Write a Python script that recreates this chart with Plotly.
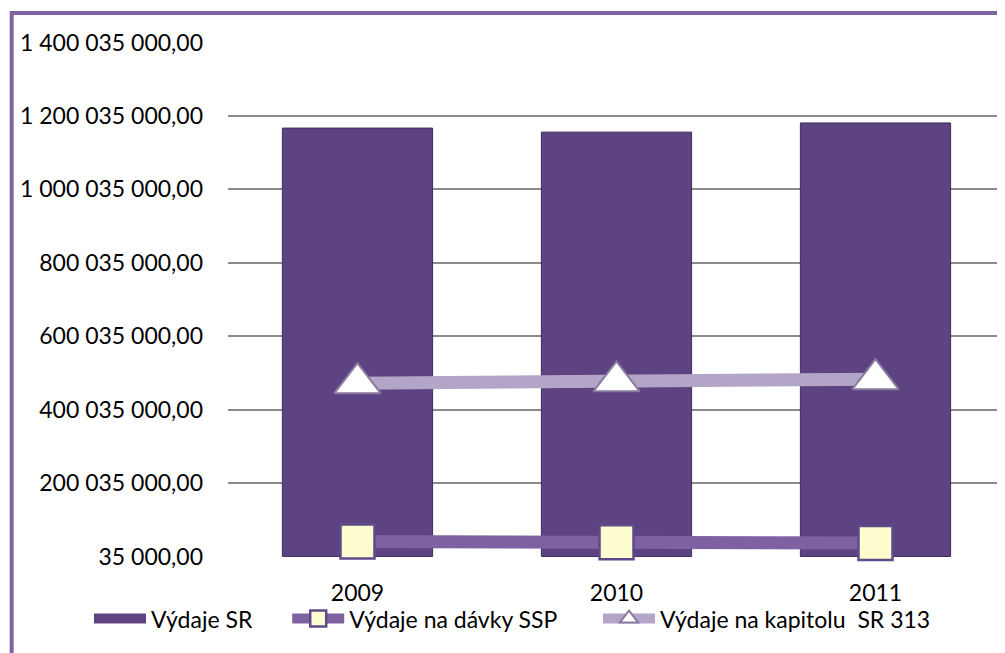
import plotly.graph_objects as go

years = ["2009", "2010", "2011"]
vydaje_sr = [1167000000, 1156000000, 1181000000]
vydaje_davky_ssp = [41000000, 39000000, 36500000]
vydaje_kapitola_313 = [472000000, 477000000, 483000000]

tick_vals = [35000 + k * 200000000 for k in range(8)]


def sk_format(v):
    # 1 400 035 000,00 style
    s = f"{v:,.2f}"
    return s.replace(",", " ").replace(".", ",")


tick_text = [sk_format(v) for v in tick_vals]

font_name = "Lato, Noto Sans, sans-serif"
bar_color = "#5d4382"

fig = go.Figure()

fig.add_trace(
    go.Bar(
        x=years,
        y=vydaje_sr,
        name="Výdaje SR",
        legendgroup="sr",
        showlegend=False,
        marker=dict(color=bar_color, line=dict(color="#3f2d5a", width=1)),
    )
)
# legend entry for the bars drawn as a wide block like the original
fig.add_trace(
    go.Scatter(
        x=[None],
        y=[None],
        name="Výdaje SR",
        legendgroup="sr",
        legend="legend",
        mode="lines",
        line=dict(color=bar_color, width=14),
    )
)

fig.add_trace(
    go.Scatter(
        x=years,
        y=vydaje_davky_ssp,
        name="Výdaje na dávky SSP",
        legend="legend2",
        mode="lines+markers",
        line=dict(color="#7f60a0", width=13),
        marker=dict(
            symbol="square",
            size=34,
            color="#fdfdd0",
            line=dict(color="#5e4b8b", width=2.5),
        ),
        cliponaxis=False,
    )
)

fig.add_trace(
    go.Scatter(
        x=years,
        y=vydaje_kapitola_313,
        name="Výdaje na kapitolu  SR 313",
        legend="legend3",
        mode="lines+markers",
        line=dict(color="#b3a5c8", width=13),
        marker=dict(
            symbol="triangle-up",
            size=40,
            color="#ffffff",
            line=dict(color="#8a7a9e", width=2),
        ),
        cliponaxis=False,
    )
)

legend_style = dict(
    orientation="h",
    xanchor="left",
    y=-0.078,
    yanchor="top",
    font=dict(size=23),
    itemwidth=52,
    bgcolor="rgba(0,0,0,0)",
)

fig.update_layout(
    width=997,
    height=645,
    margin=dict(l=220, r=0, t=34, b=96),
    paper_bgcolor="white",
    plot_bgcolor="white",
    bargap=0.42,
    font=dict(family=font_name, size=23, color="#000000"),
    showlegend=True,
    legend=dict(x=-0.1789, **legend_style),
    legend2=dict(x=0.0762, **legend_style),
    legend3=dict(x=0.4762, **legend_style),
    shapes=[
        dict(
            type="rect",
            xref="paper",
            yref="paper",
            x0=-0.2784,
            x1=1.2,
            y0=-0.4,
            y1=1.0563,
            line=dict(color="#8064a2", width=4),
            fillcolor="rgba(0,0,0,0)",
        )
    ],
)

fig.update_xaxes(
    type="category",
    showgrid=False,
    showline=False,
    ticks="",
    ticklabelstandoff=20,
    tickfont=dict(size=23),
    range=[-0.5, 2.5],
)

fig.update_yaxes(
    range=[35000 - 1500000, 1400035000 + 1500000],
    tickvals=tick_vals,
    ticktext=tick_text,
    showgrid=True,
    gridcolor="#8a8a8a",
    gridwidth=1.5,
    zeroline=False,
    showline=False,
    ticks="",
    ticklabelstandoff=24,
    tickfont=dict(size=23),
)

fig.write_html("out.html")
